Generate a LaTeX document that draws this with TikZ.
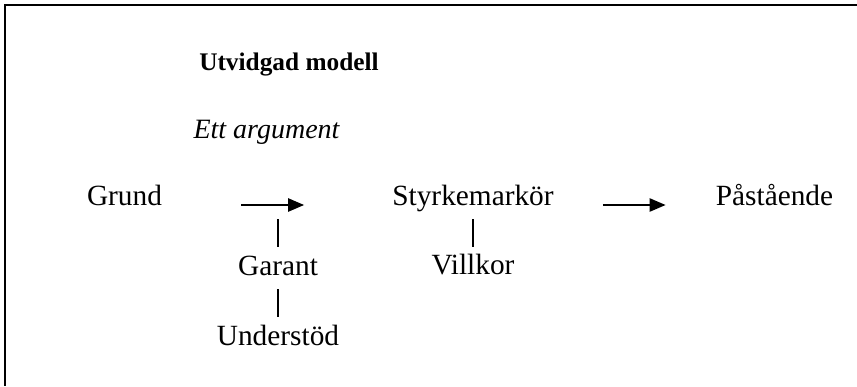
\documentclass[tikz,border=0pt]{standalone}
\usepackage{fontspec}
\setmainfont{Liberation Serif}
\usetikzlibrary{arrows.meta}

\begin{document}
\begin{tikzpicture}[
      % GLOBAL CFG
      x=0.75pt, y=-0.75pt,
      font=\fontsize{22}{26}\selectfont,
      >={Triangle[length=12pt,width=10pt]},
      % Styles
      term/.style={% For the parts of the model
        anchor=base,
        inner sep=0pt,
        text height=14.6pt,
        text depth=0pt
      },
      heading/.style={% For the titles
        anchor=base,
        inner sep=0pt
      },
      frame/.style={% Page frame
        line width=1.5pt
      },
      arrowstep/.style={% Arrows between the parts
        line width=1.1pt,
        ->
      },
      bar/.style={% Vertical links
        line width=0.8pt
      }
      ]

      \useasboundingbox (0,0) rectangle (857,386);
      \draw [frame] (857,5) -- (5,5) -- (5,386);

      % Titles
      \node [heading, font=\bfseries\fontsize{19}{23}\selectfont] (title) at (289,70) {Utvidgad modell};
      \node [heading, font=\itshape\fontsize{21}{25}\selectfont] (subtitle) at (266.5,138) {Ett argument};

      % Main line
      \node [term] (grund) at (124.5,205) {Grund};
      \node [term] (styrke) at (473,205) {Styrkemarkör};
      \node [term] (pastaende) at (774.5,205) {Påstående};
      \draw [arrowstep, shorten <=59.25pt, shorten >=66pt] (grund.base east) -- (styrke.base west);
      \draw [arrowstep, shorten <=36.75pt, shorten >=37.5pt] (styrke.base east) -- (pastaende.base west);

      % Below the main line
      \coordinate (garantpil) at (278,206);
      \node [term] (garant) at (278,275) {Garant};
      \node [term] (understod) at (278,345) {Understöd};
      \node [term] (villkor) at (473,274) {Villkor};
      \draw [bar, shorten <=9.75pt, shorten >=6.4pt] (garantpil) -- (garant);
      \draw [bar, shorten <=10.5pt, shorten >=6.4pt] (garant) -- (understod);
      \draw [bar, shorten <=10.5pt, shorten >=5.6pt] (styrke) -- (villkor);

    \end{tikzpicture}
\end{document}
